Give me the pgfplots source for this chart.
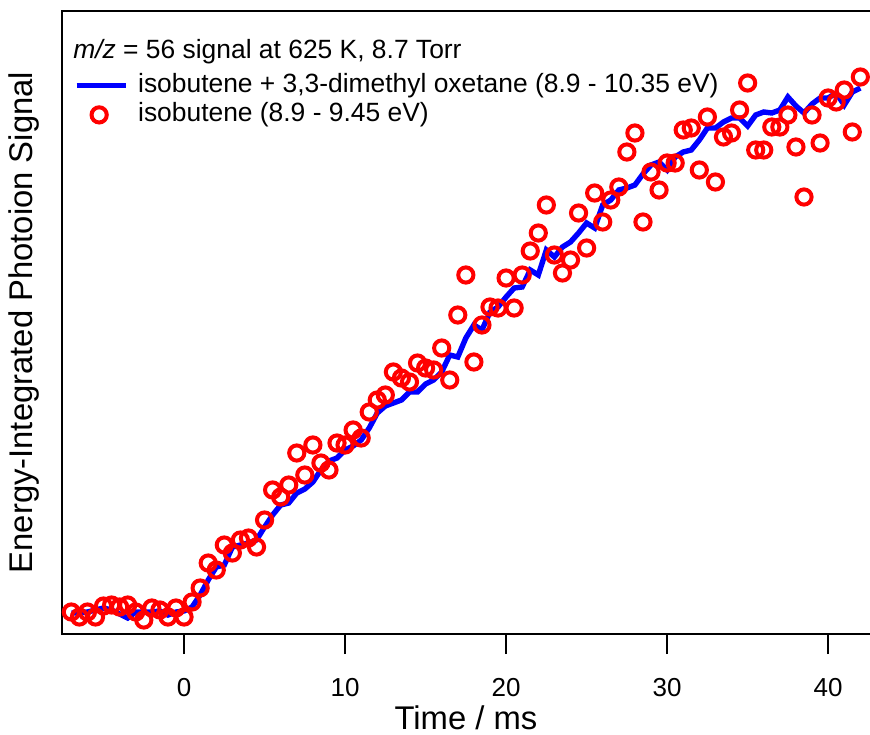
\documentclass[border=0pt]{standalone}
\usepackage{pgfplots}
\pgfplotsset{compat=1.18}
\usepackage{pgfplotstable}
\usepackage{fontspec}
\setmainfont{Liberation Sans}
\pgfplotsset{
  lineleg/.style={legend image code/.code={\draw[##1] (0pt,0pt) -- (24.5pt,0pt);}},
  markleg/.style={legend image code/.code={\draw[##1] plot coordinates {(11.3pt,0pt)};}},
}
\pgfplotstableread{
t c l
-7.0 22 21
-6.5 17 21
-6.0 22 22
-5.5 17 24
-5.0 28 26
-4.5 29 24
-4.0 27 20
-3.5 29 16
-3.0 22 22
-2.5 14 22
-2.0 26 22
-1.5 24 23
-1.0 17 19
-0.5 26 22
0.0 17 23
0.5 32 27
1.0 46 39
1.5 71 54
2.0 64 67
2.5 89 69
3.0 81 87
3.5 94 89
4.0 96 91
4.5 87 94
5.0 114 107
5.5 144 119
6.0 137 129
6.5 149 131
7.0 181 141
7.5 159 145
8.0 189 152
8.5 171 164
9.0 164 173
9.5 191 176
10.0 189 184
10.5 204 188
11.0 196 194
11.5 222 206
12.0 234 221
12.5 239 228
13.0 262 231
13.5 256 234
14.0 252 242
14.5 271 242
15.0 266 250
15.5 264 254
16.0 286 262
16.5 254 279
17.0 319 277
17.5 359 296
18.0 272 309
18.5 309 304
19.0 327 322
19.5 326 327
20.0 356 337
20.5 326 346
21.0 359 347
21.5 383 364
22.0 401 359
22.5 429 384
23.0 379 377
23.5 361 387
24.0 374 392
24.5 421 401
25.0 386 411
25.5 441 406
26.0 412 429
26.5 434 434
27.0 447 444
27.5 482 446
28.0 501 449
28.5 412 460
29.0 462 469
29.5 444 472
30.0 471 464
30.5 471 477
31.0 504 482
31.5 506 484
32.0 464 494
32.5 517 506
33.0 452 506
33.5 497 512
34.0 501 516
34.5 524 516
35.0 551 508
35.5 484 519
36.0 484 522
36.5 507 521
37.0 507 524
37.5 519 537
38.0 487 528
38.5 437 521
39.0 519 530
39.5 491 536
40.0 536 536
40.5 532 541
41.0 544 529
41.5 502 542
42.0 557 546
}\data

\begin{document}
\begin{tikzpicture}
\begin{axis}[
  scale only axis, width=404pt, height=311.5pt,
  xmin=-7.58, xmax=42.6, ymin=0, ymax=623,
  axis line style={draw=none},
  xtick={0,10,20,30,40}, ytick=\empty,
  xtick pos=bottom, tick align=outside, major tick length=10pt,
  tick style={black, line width=1.3pt},
  /pgf/number format/assume math mode=true,
  tick label style={font=\fontsize{13}{15}\selectfont},
  xticklabel style={yshift=-8.8pt},
  xlabel={Time / ms}, ylabel={Energy-Integrated Photoion Signal},
  every axis x label/.style={at={(rel axis cs:0.5,0)}, anchor=base, yshift=-47.5pt, font=\fontsize{16.4}{19}\selectfont},
  every axis y label/.style={at={(rel axis cs:0,0.5)}, xshift=-14.5pt, rotate=90, anchor=base, font=\fontsize{16.4}{19}\selectfont},
  legend style={draw=none, fill=none, at={(rel axis cs:0.0143,0.9037)}, anchor=north west,
    inner sep=0pt, font=\fontsize{13.2}{15}\selectfont, column sep=5pt,
    nodes={inner sep=0pt, text height=10.5pt, text depth=4pt}},
  legend cell align=left,
  clip=false,
]
\addlegendimage{blue, line width=2.6pt, lineleg}
\addlegendentry{isobutene + 3,3-dimethyl oxetane (8.9 - 10.35 eV)}
\addplot[only marks, mark=o, mark size=3.8pt, red, line width=2pt, markleg]
  table[x=t,y=c]{\data};
\addlegendentry{isobutene (8.9 - 9.45 eV)}
\addplot[blue, line width=2.7pt, line join=miter, forget plot] table[x=t,y=l]{\data};
\draw[line width=1.3pt, line cap=rect] (rel axis cs:1,1) -- (rel axis cs:0,1) -- (rel axis cs:0,0) -- (rel axis cs:1,0);
\node[anchor=base west, font=\fontsize{13.2}{15}\selectfont, inner sep=0pt] at (rel axis cs:0.0136,0.923) {\textit{m/z} = 56 signal at 625 K, 8.7 Torr};
\coordinate (BL) at (rel axis cs:0,0);
\coordinate (TR) at (rel axis cs:1,1);
\end{axis}
\pgfresetboundingbox
\path[use as bounding box] ([xshift=-31pt,yshift=-50pt]BL) rectangle ([yshift=5.5pt]TR);
\end{tikzpicture}
\end{document}
